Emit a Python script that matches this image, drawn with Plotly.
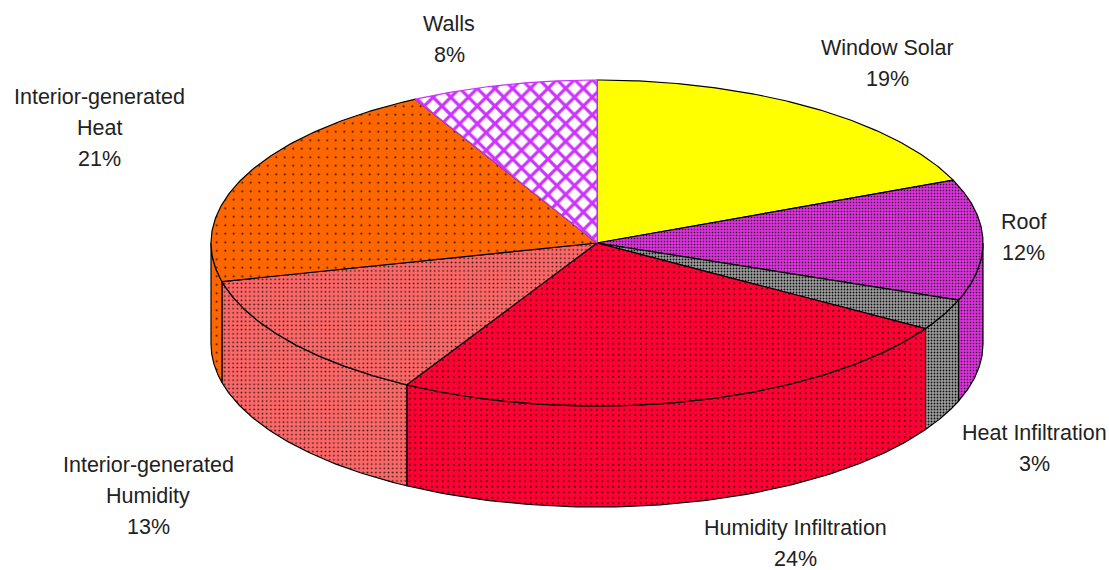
import numpy as np
import plotly.graph_objects as go

# --- data ---
categories = ["Window Solar", "Roof", "Heat Infiltration", "Humidity Infiltration",
              "Interior-generated Humidity", "Interior-generated Heat", "Walls"]
values = [18.7, 12, 3.1, 24.4, 13, 21, 7.8]
label_lines = [["Window Solar"], ["Roof"], ["Heat Infiltration"], ["Humidity Infiltration"],
               ["Interior-generated", "Humidity"], ["Interior-generated", "Heat"], ["Walls"]]

# --- styling / layout ---
CX, CY, RX, RY, DEPTH = 597, 243, 386, 163, 101
styles = [
    dict(shape="", bgcolor="#FFFF00", fgcolor="#FFFF00", size=6, solidity=0.01),
    dict(shape=".", bgcolor="#D633D6", fgcolor="#220022", fgopacity=1, size=3, solidity=0.2),
    dict(shape=".", bgcolor="#A0A0A0", fgcolor="#111111", fgopacity=1, size=3, solidity=0.3),
    dict(shape=".", bgcolor="#FF0033", fgcolor="#111111", fgopacity=1, size=5.5, solidity=0.08),
    dict(shape=".", bgcolor="#FF6666", fgcolor="#222222", fgopacity=1, size=4.2, solidity=0.14),
    dict(shape=".", bgcolor="#FF6600", fgcolor="#111111", fgopacity=1, size=8.5, solidity=0.04),
    dict(shape="x", bgcolor="#FFFFFF", fgcolor="#CC33FF", fgopacity=1, size=12.5, solidity=0.45),
]
flat = {0: "#FFFF00"}
edge = ["#000000", "#000000", "#000000", "#000000", "#000000", "#000000", "#CC33FF"]
label_anchor = [(887, 48), (1023, 222), (1034, 433), (795, 528), (148, 465), (99, 97), (449, 24)]
LINE_STEP = 31


def ex(t):
    return CX + RX * np.sin(t)


def ey(t):
    return CY - RY * np.cos(t)


cum = np.concatenate([[0], np.cumsum(values)]) / sum(values) * 2 * np.pi
fig = go.Figure()


def add_poly(x, y, i):
    st = styles[i]
    kw = dict(fillcolor=flat[i]) if i in flat else dict(fillpattern=st, fillcolor=st["bgcolor"])
    fig.add_trace(go.Scatter(x=x, y=y, mode="lines", fill="toself",
                             line=dict(color=edge[i], width=1.2),
                             hoverinfo="text", text=categories[i], showlegend=False, **kw))


# side walls: the visible front half of the rim
for i in range(len(values)):
    a, b = max(cum[i], np.pi / 2), min(cum[i + 1], 3 * np.pi / 2)
    if a >= b:
        continue
    t = np.linspace(a, b, 80)
    add_poly(np.r_[ex(t), ex(t[::-1]), ex(t[0])],
             np.r_[ey(t), ey(t[::-1]) + DEPTH, ey(t[0])], i)

# top faces
for i in range(len(values)):
    t = np.linspace(cum[i], cum[i + 1], 120)
    add_poly(np.r_[CX, ex(t), CX], np.r_[CY, ey(t), CY], i)

# labels
annotations = []
for i, (x, y) in enumerate(label_anchor):
    lines = label_lines[i] + [f"{values[i]:.0f}%"]
    for k, s in enumerate(lines):
        annotations.append(dict(x=x, y=y + k * LINE_STEP, text=s, showarrow=False,
                                xanchor="center", yanchor="middle",
                                font=dict(family="Liberation Sans", size=21.5, color="#222222")))

fig.update_layout(
    width=1109, height=570, margin=dict(l=0, r=0, t=0, b=0),
    paper_bgcolor="white", plot_bgcolor="white", showlegend=False,
    xaxis=dict(range=[0, 1109], visible=False),
    yaxis=dict(range=[570, 0], visible=False),
    annotations=annotations,
)
fig.write_html("out.html", config=dict(displayModeBar=False),
               post_script="document.body.style.margin='0';document.documentElement.style.overflow='hidden';")
